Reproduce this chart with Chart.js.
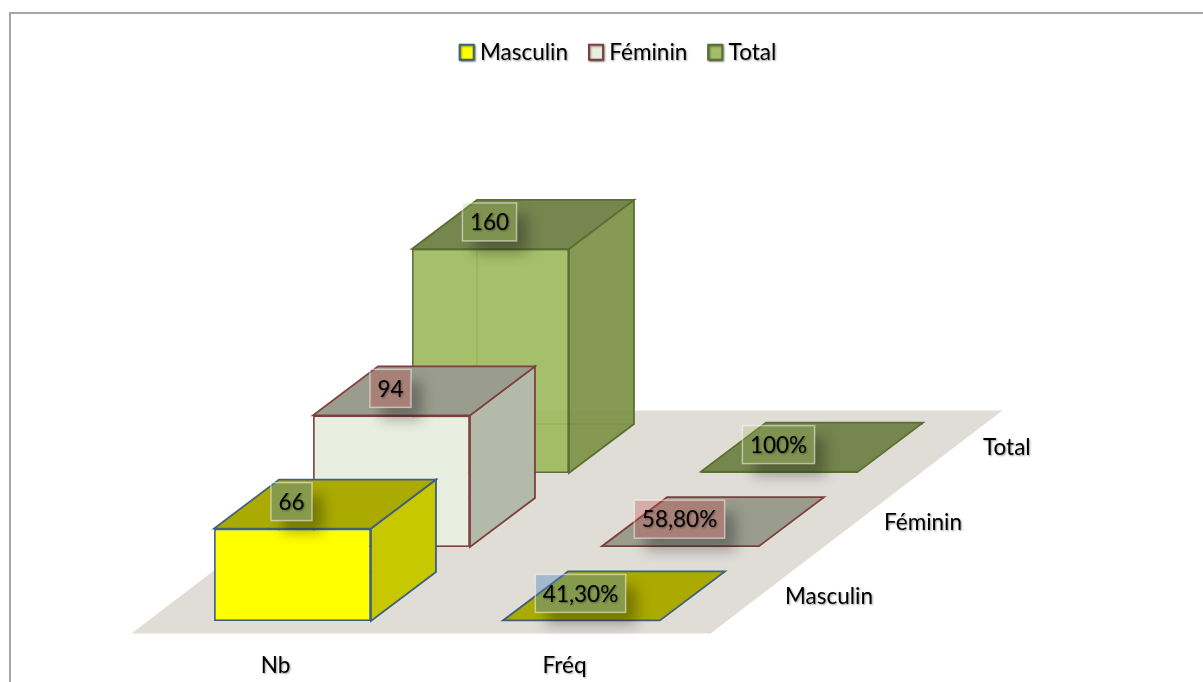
<!DOCTYPE html>
<html>
<head>
<meta charset="utf-8">
<title>Masculin Féminin Total</title>
<script src="https://cdn.jsdelivr.net/npm/chart.js@4"></script>
<style>
    html, body { margin: 0; padding: 0; background: #fff; overflow: hidden; }
    #frame { position: absolute; left: 9px; top: 12px; right: 0; bottom: 0; border-left: 2px solid #a6a6a6; border-top: 2px solid #a6a6a6; }
    #chart { position: absolute; left: 0; top: 0; }
</style>
</head>
<body>
<div id="frame"></div>
<canvas id="chart" width="1203" height="682"></canvas>
<script>
const categories = ['Nb', 'Fréq'];
const seriesNames = ['Masculin', 'Féminin', 'Total'];
const masculinValues = [66, 0.413];
const femininValues = [94, 0.588];
const totalValues = [160, 1];
const masculinLabels = ['66', '41,30%'];
const femininLabels = ['94', '58,80%'];
const totalLabels = ['160', '100%'];

const valueLabels = [masculinLabels, femininLabels, totalLabels];

// couleurs des faces
const frontColors = ['#ffff00', '#e9efe0', 'rgba(155, 185, 90, 0.9)'];
const legendColors = ['#ffff00', '#e9efe0', '#a3bf6a'];
const sideColors = ['#c8c800', '#b3baa9', 'rgba(124, 145, 70, 0.92)'];
const topColors = ['#aaaa00', '#9a9c8e', '#76864f'];
const edgeColors = ['#40607f', '#7f3f3f', '#5a7030'];
const labelColors = ['rgba(79, 129, 189, 0.4)', 'rgba(192, 80, 77, 0.35)', 'rgba(155, 187, 89, 0.25)'];

// fausse perspective : décalage entre séries et profondeur d'une barre
const SERIES_DX = 99, SERIES_DY = -74;
const DEPTH_DX = 65, DEPTH_DY = -49;
const FONT = { family: 'Lato', size: 22.5 };

function poly(ctx, pts, fill, stroke) {
    ctx.beginPath();
    pts.forEach(function(p, i) { i ? ctx.lineTo(p[0], p[1]) : ctx.moveTo(p[0], p[1]); });
    ctx.closePath();
    ctx.fillStyle = fill;
    ctx.fill();
    if (stroke) {
        ctx.strokeStyle = stroke;
        ctx.lineWidth = 1.8;
        ctx.stroke();
    }
}

function textShadow(ctx) {
    ctx.shadowColor = 'rgba(0, 0, 0, 0.4)';
    ctx.shadowBlur = 2;
    ctx.shadowOffsetX = 1;
    ctx.shadowOffsetY = 1;
}

function noShadow(ctx) {
    ctx.shadowColor = 'transparent';
    ctx.shadowBlur = 0;
    ctx.shadowOffsetX = 0;
    ctx.shadowOffsetY = 0;
}

const bars3d = {
    id: 'bars3d',
    beforeDraw: function(chart) {
        // légende et libellés d'axe sont dessinés avant les barres
        textShadow(chart.ctx);
    },
    beforeDatasetsDraw: function(chart) {
        const ctx = chart.ctx, x = chart.scales.x, y = chart.scales.y;
        // carrés de légende plus larges que ce que Chart.js laisse devant le texte
        chart.legend.legendHitBoxes.forEach(function(box, i) {
            const cy = box.top + box.height / 2;
            ctx.fillStyle = legendColors[i];
            ctx.strokeStyle = edgeColors[i];
            ctx.lineWidth = 2;
            ctx.fillRect(box.left, cy - 7.5, 14, 15);
            ctx.strokeRect(box.left, cy - 7.5, 14, 15);
        });
        noShadow(ctx);
        const base = y.getPixelForValue(0) + 12.5;
        const left = x.left - 16.5, right = x.right - 15.5;
        poly(ctx, [[left, base], [right, base], [right + 292, base - 223], [left + 292, base - 223]], '#e0ddd7');
    },
    beforeDatasetDraw: function(chart, args) {
        const ctx = chart.ctx, i = args.index;
        ctx.save();
        ctx.translate(i * SERIES_DX, i * SERIES_DY);
        args.meta.data.forEach(function(bar) {
            const l = bar.x - bar.width / 2, r = bar.x + bar.width / 2;
            const t = bar.y, b = bar.base;
            const dx = DEPTH_DX, dy = DEPTH_DY;
            // arêtes cachées, visibles à travers les faces transparentes
            ctx.beginPath();
            ctx.moveTo(l + dx, t + dy);
            ctx.lineTo(l + dx, b + dy);
            ctx.lineTo(r + dx, b + dy);
            ctx.strokeStyle = edgeColors[i];
            ctx.lineWidth = 1;
            ctx.stroke();
            if (b - t > 2) {
                poly(ctx, [[r, t], [r + dx, t + dy], [r + dx, b + dy], [r, b]], sideColors[i], edgeColors[i]);
            }
            poly(ctx, [[l, t], [r, t], [r + dx, t + dy], [l + dx, t + dy]], topColors[i], edgeColors[i]);
        });
    },
    afterDatasetDraw: function(chart) {
        chart.ctx.restore();
    },
    afterDatasetsDraw: function(chart) {
        const ctx = chart.ctx, x = chart.scales.x, y = chart.scales.y;
        ctx.font = FONT.size + 'px ' + FONT.family;
        for (let i = seriesNames.length - 1; i >= 0; i--) {
            chart.getDatasetMeta(i).data.forEach(function(bar, j) {
                const text = valueLabels[i][j];
                const w = ctx.measureText(text).width + 15, h = 38;
                const cx = bar.x + i * SERIES_DX - 1;
                const cy = bar.y + i * SERIES_DY - 27;
                const bx = cx - w / 2, by = cy - h / 2;
                // ombre portée, seulement hors de l'étiquette
                ctx.save();
                ctx.beginPath();
                ctx.rect(0, 0, chart.width, chart.height);
                ctx.rect(bx, by, w, h);
                ctx.clip('evenodd');
                ctx.shadowColor = 'rgba(0, 0, 0, 0.3)';
                ctx.shadowBlur = 14;
                ctx.shadowOffsetX = 3000 + 11;
                ctx.shadowOffsetY = 12;
                ctx.fillStyle = '#000';
                ctx.fillRect(bx - 3000, by, w, h);
                ctx.restore();
                ctx.fillStyle = labelColors[i];
                ctx.fillRect(bx, by, w, h);
                ctx.strokeStyle = 'rgba(255, 255, 255, 0.5)';
                ctx.lineWidth = 1.5;
                ctx.strokeRect(bx, by, w, h);
                ctx.save();
                textShadow(ctx);
                ctx.fillStyle = '#000';
                ctx.textAlign = 'center';
                ctx.textBaseline = 'middle';
                ctx.fillText(text, cx, cy + 1);
                ctx.restore();
            });
        }
        // noms des séries sur l'axe de profondeur
        ctx.save();
        textShadow(ctx);
        ctx.fillStyle = '#000';
        ctx.textAlign = 'left';
        ctx.textBaseline = 'middle';
        seriesNames.forEach(function(name, i) {
            ctx.fillText(name, x.right + 59 + i * SERIES_DX, y.getPixelForValue(0) - 24 - i * 74.5);
        });
        ctx.restore();
    }
};

function makeDataset(i, values) {
    return {
        label: seriesNames[i],
        data: values,
        backgroundColor: frontColors[i],
        borderColor: edgeColors[i],
        borderWidth: 1.8,
        borderSkipped: false,
        grouped: false,
        categoryPercentage: 1,
        barPercentage: 0.543,
        clip: false
    };
}

const hiddenAxis = {
    ticks: { display: false },
    grid: { display: false },
    border: { display: false }
};

new Chart(document.getElementById('chart').getContext('2d'), {
    type: 'bar',
    data: {
        labels: categories,
        datasets: [
            makeDataset(0, masculinValues),
            makeDataset(1, femininValues),
            makeDataset(2, totalValues)
        ]
    },
    plugins: [bars3d],
    options: {
        responsive: false,
        animation: false,
        layout: { padding: { left: 33, top: 20 } },
        plugins: {
            tooltip: { enabled: false },
            legend: {
                position: 'top',
                labels: {
                    color: '#000',
                    font: FONT,
                    boxWidth: 9,
                    boxHeight: 12,
                    padding: 21
                }
            }
        },
        scales: {
            x: {
                grid: { display: false, drawTicks: false },
                border: { display: false },
                ticks: { color: '#000', font: FONT, labelOffset: -17, padding: 31, maxRotation: 0 },
                afterFit: function(scale) { scale.height = 61; }
            },
            y: Object.assign({}, hiddenAxis, {
                min: 0,
                max: 391,
                afterFit: function(scale) { scale.width = 115; }
            }),
            spare: Object.assign({}, hiddenAxis, {
                type: 'linear',
                position: 'right',
                afterFit: function(scale) { scale.width = 477; }
            })
        }
    }
});
</script>
</body>
</html>
